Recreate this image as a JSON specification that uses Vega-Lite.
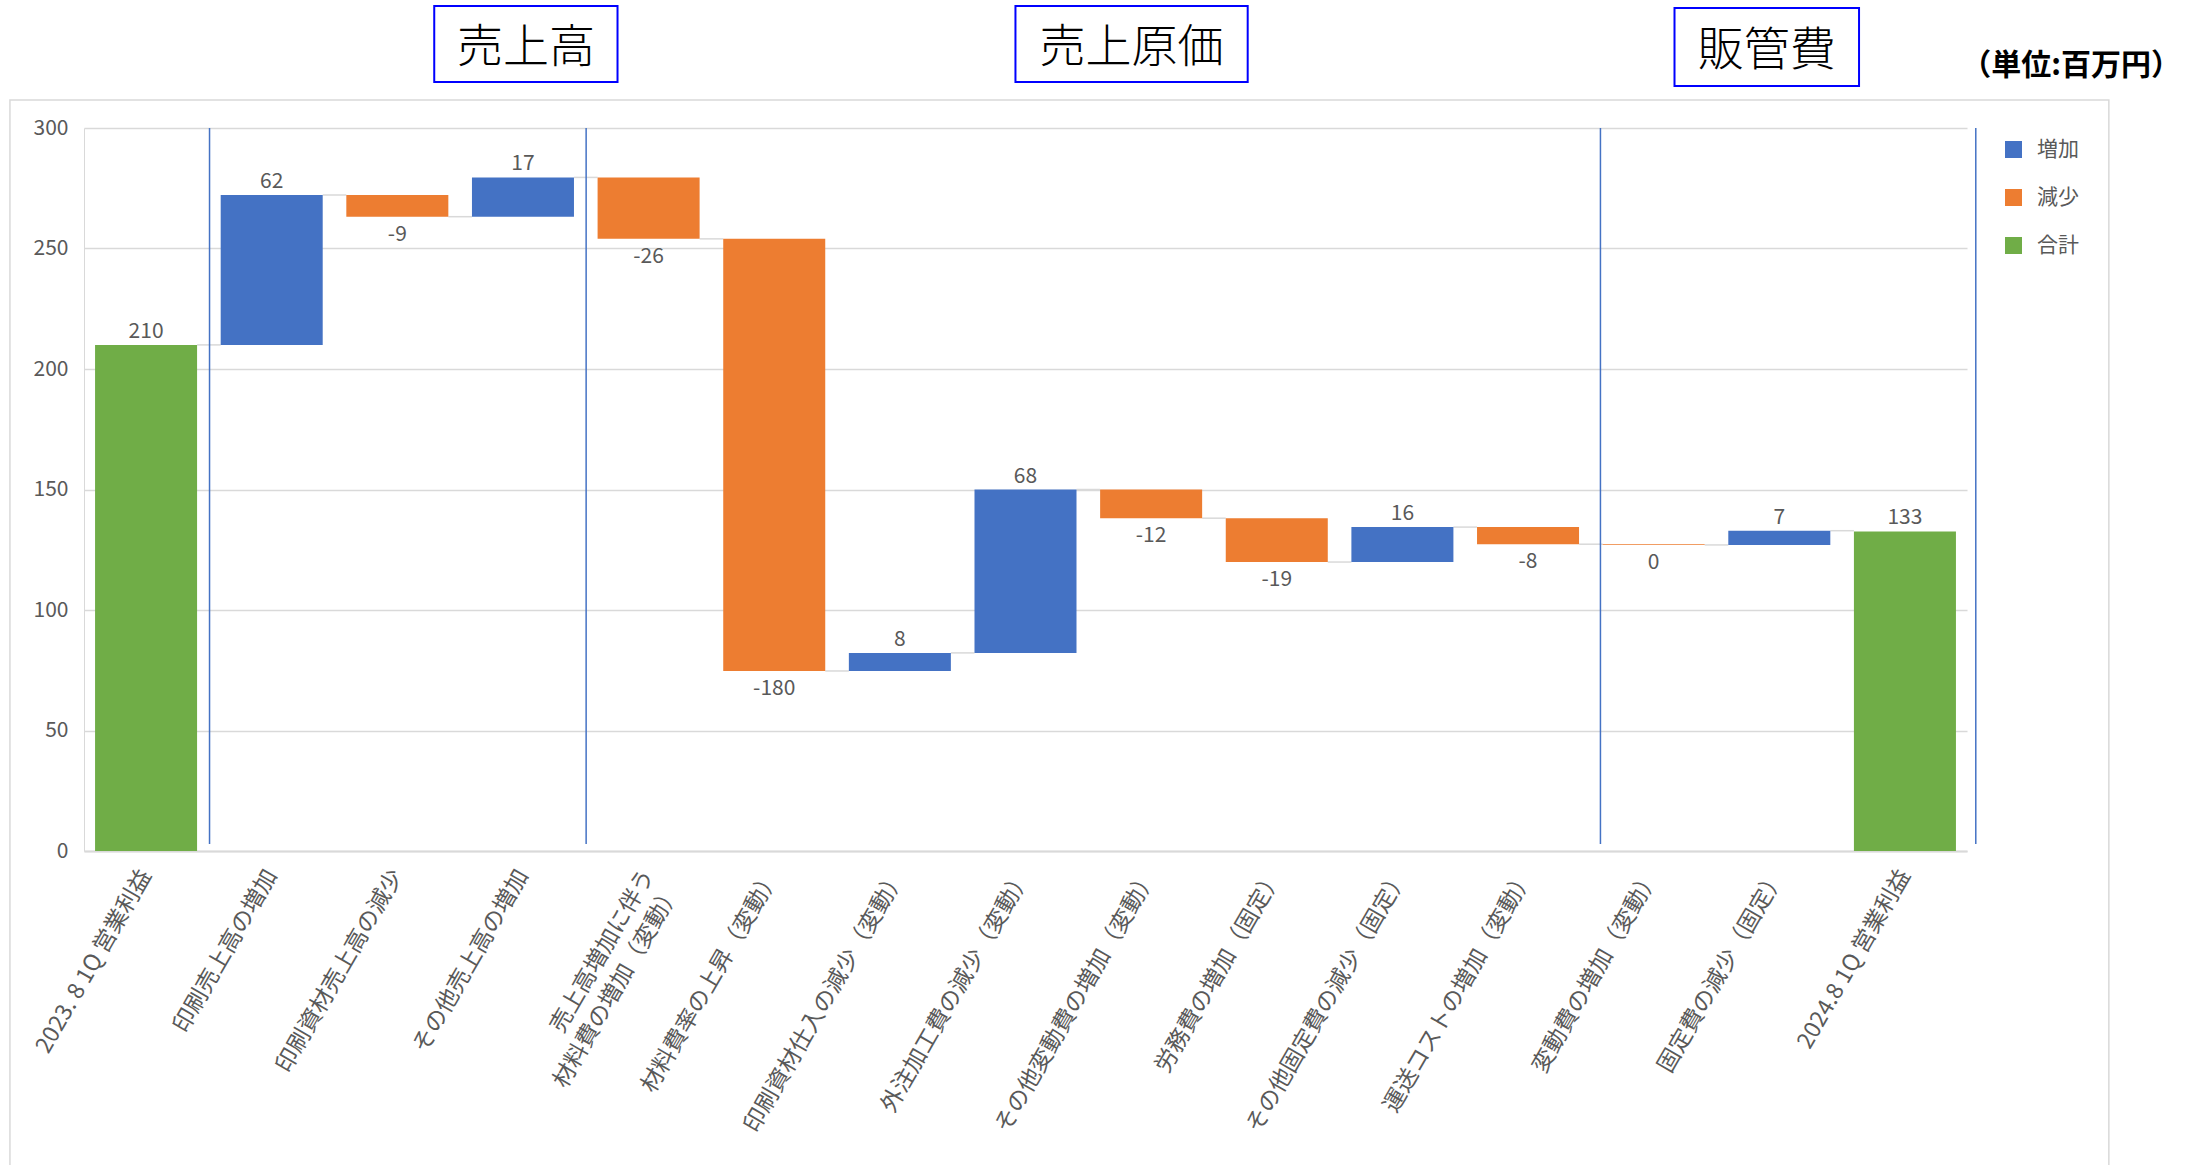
{
  "$schema": "https://vega.github.io/schema/vega-lite/v6.json",
  "width": 1883,
  "height": 723,
  "autosize": {"type": "none"},
  "padding": {"left": 84, "top": 128, "right": 220, "bottom": 314},
  "background": "white",
  "config": {"view": {"stroke": null}, "font": "Noto Sans CJK JP"},
  "datasets": {
    "steps": [
      {"category": "2023. 8 1Q 営業利益", "type": "合計", "start": 0, "end": 210, "label": "210"},
      {"category": "印刷売上高の増加", "type": "増加", "start": 210, "end": 272.2, "label": "62"},
      {"category": "印刷資材売上高の減少", "type": "減少", "start": 272.2, "end": 263.2, "label": "-9"},
      {"category": "その他売上高の増加", "type": "増加", "start": 263.2, "end": 279.5, "label": "17"},
      {"category": "売上高増加に伴う\n材料費の増加（変動）", "type": "減少", "start": 279.5, "end": 254.0, "label": "-26"},
      {"category": "材料費率の上昇（変動）", "type": "減少", "start": 254.0, "end": 74.7, "label": "-180"},
      {"category": "印刷資材仕入の減少（変動）", "type": "増加", "start": 74.7, "end": 82.2, "label": "8"},
      {"category": "外注加工費の減少（変動）", "type": "増加", "start": 82.2, "end": 150.0, "label": "68"},
      {"category": "その他変動費の増加（変動）", "type": "減少", "start": 150.0, "end": 138.1, "label": "-12"},
      {"category": "労務費の増加（固定）", "type": "減少", "start": 138.1, "end": 119.9, "label": "-19"},
      {"category": "その他固定費の減少（固定）", "type": "増加", "start": 119.9, "end": 134.4, "label": "16"},
      {"category": "運送コストの増加（変動）", "type": "減少", "start": 134.4, "end": 127.3, "label": "-8"},
      {"category": "変動費の増加（変動）", "type": "減少", "start": 127.3, "end": 127.0, "label": "0"},
      {"category": "固定費の減少（固定）", "type": "増加", "start": 127.0, "end": 132.9, "label": "7"},
      {"category": "2024.8 1Q 営業利益", "type": "合計", "start": 0, "end": 132.6, "label": "133"}
    ],
    "frame": [{"x1": -0.59, "x2": 16.13, "y1": -134, "y2": 311.6}],
    "separators": [{"pos": 1.0}, {"pos": 4.0}, {"pos": 12.08}, {"pos": 15.07}],
    "headers": [
      {"text": "売上高", "x1": 2.79, "x2": 4.25, "y1": 319.1, "y2": 350.6, "cx": 3.52, "cy": 333.3},
      {"text": "売上原価", "x1": 7.42, "x2": 9.27, "y1": 319.1, "y2": 350.6, "cx": 8.345, "cy": 333.3},
      {"text": "販管費", "x1": 12.67, "x2": 14.14, "y1": 317.4, "y2": 349.8, "cx": 13.405, "cy": 332.1}
    ],
    "unit": [{"text": "（単位:百万円）", "cx": 15.83, "cy": 325.6}]
  },
  "resolve": {"scale": {"x": "independent", "y": "independent"}},
  "layer": [
    {
      "data": {"name": "frame"},
      "mark": {"type": "rect", "fill": "transparent", "stroke": "#d9d9d9", "strokeWidth": 1.5},
      "encoding": {
        "x": {"field": "x1", "type": "quantitative", "scale": {"domain": [0, 15], "nice": false, "zero": false}, "axis": null},
        "x2": {"field": "x2"},
        "y": {"field": "y1", "type": "quantitative", "scale": {"domain": [0, 300], "nice": false}, "axis": null},
        "y2": {"field": "y2"}
      }
    },
    {
      "data": {"name": "steps"},
      "encoding": {
        "x": {
          "field": "category",
          "type": "nominal",
          "sort": null,
          "scale": {
            "domain": ["2023. 8 1Q 営業利益", "印刷売上高の増加", "印刷資材売上高の減少", "その他売上高の増加", "売上高増加に伴う\n材料費の増加（変動）", "材料費率の上昇（変動）", "印刷資材仕入の減少（変動）", "外注加工費の減少（変動）", "その他変動費の増加（変動）", "労務費の増加（固定）", "その他固定費の減少（固定）", "運送コストの増加（変動）", "変動費の増加（変動）", "固定費の減少（固定）", "2024.8 1Q 営業利益"],
            "paddingInner": 0.188,
            "paddingOuter": 0.088
          },
          "axis": {
            "title": null,
            "labelAngle": -60,
            "labelFontSize": 23,
            "labelColor": "#595959",
            "labelPadding": 20,
            "labelLimit": 0,
            "labelLineHeight": 30,
            "ticks": false,
            "domainColor": "#d9d9d9",
            "domainWidth": 2,
            "labelExpr": "split(datum.value, '\\n')"
          }
        }
      },
      "layer": [
        {
          "transform": [
            {"window": [{"op": "lead", "field": "category", "as": "next"}]},
            {"filter": "datum.next != null"}
          ],
          "mark": {"type": "rule", "color": "#d9d9d9", "strokeWidth": 1.5},
          "encoding": {
            "x": {"field": "category", "type": "nominal", "sort": null, "bandPosition": 1},
            "x2": {"field": "next", "bandPosition": 0},
            "y": {"field": "end", "type": "quantitative", "scale": {"domain": [0, 300], "nice": false}}
          }
        },
        {
          "mark": {"type": "bar"},
          "encoding": {
            "y": {
              "field": "start",
              "type": "quantitative",
              "scale": {"domain": [0, 300], "nice": false},
              "axis": {
                "title": null,
                "values": [0, 50, 100, 150, 200, 250, 300],
                "grid": true,
                "gridColor": "#d9d9d9",
                "gridWidth": 1.5,
                "ticks": false,
                "domain": true,
                "domainColor": "#d9d9d9",
                "labelFontSize": 21,
                "labelColor": "#595959",
                "labelPadding": 16
              }
            },
            "y2": {"field": "end"},
            "color": {
              "field": "type",
              "type": "nominal",
              "scale": {"domain": ["増加", "減少", "合計"], "range": ["#4472C4", "#ED7D31", "#70AD47"]},
              "legend": {
                "title": null,
                "orient": "none",
                "legendX": 1919,
                "legendY": 11,
                "symbolType": "square",
                "symbolSize": 289,
                "symbolStrokeWidth": 0,
                "labelFontSize": 21,
                "labelColor": "#595959",
                "rowPadding": 26,
                "labelOffset": 13
              }
            }
          }
        },
        {
          "transform": [{"filter": "datum.type != '減少'"}],
          "mark": {"type": "text", "baseline": "bottom", "dy": -3, "fontSize": 21, "color": "#595959"},
          "encoding": {
            "y": {"field": "end", "type": "quantitative"},
            "text": {"field": "label"}
          }
        },
        {
          "transform": [{"filter": "datum.type == '減少'"}],
          "mark": {"type": "text", "baseline": "top", "dy": 7, "fontSize": 21, "color": "#595959"},
          "encoding": {
            "y": {"field": "end", "type": "quantitative"},
            "text": {"field": "label"}
          }
        }
      ]
    },
    {
      "layer": [
        {
          "data": {"name": "separators"},
          "mark": {"type": "rule", "color": "#4472C4", "strokeWidth": 1.5},
          "encoding": {
            "x": {"field": "pos", "type": "quantitative", "scale": {"domain": [0, 15], "nice": false, "zero": false}, "axis": null},
            "y": {"datum": 300, "type": "quantitative", "scale": {"domain": [0, 300], "nice": false}, "axis": null},
            "y2": {"datum": 2.9}
          }
        },
        {
          "data": {"name": "headers"},
          "mark": {"type": "rect", "fill": "white", "stroke": "#0000ff", "strokeWidth": 2},
          "encoding": {
            "x": {"field": "x1", "type": "quantitative", "scale": {"domain": [0, 15], "nice": false, "zero": false}, "axis": null},
            "x2": {"field": "x2"},
            "y": {"field": "y1", "type": "quantitative", "scale": {"domain": [0, 300], "nice": false}, "axis": null},
            "y2": {"field": "y2"}
          }
        },
        {
          "data": {"name": "headers"},
          "mark": {"type": "text", "fontSize": 46, "fontWeight": 300, "color": "#000000", "baseline": "middle", "align": "center"},
          "encoding": {
            "x": {"field": "cx", "type": "quantitative", "scale": {"domain": [0, 15], "nice": false, "zero": false}, "axis": null},
            "y": {"field": "cy", "type": "quantitative", "scale": {"domain": [0, 300], "nice": false}, "axis": null},
            "text": {"field": "text"}
          }
        },
        {
          "data": {"name": "unit"},
          "mark": {"type": "text", "fontSize": 30, "fontWeight": "bold", "color": "#000000", "baseline": "middle", "align": "center"},
          "encoding": {
            "x": {"field": "cx", "type": "quantitative", "scale": {"domain": [0, 15], "nice": false, "zero": false}, "axis": null},
            "y": {"field": "cy", "type": "quantitative", "scale": {"domain": [0, 300], "nice": false}, "axis": null},
            "text": {"field": "text"}
          }
        }
      ]
    }
  ]
}
